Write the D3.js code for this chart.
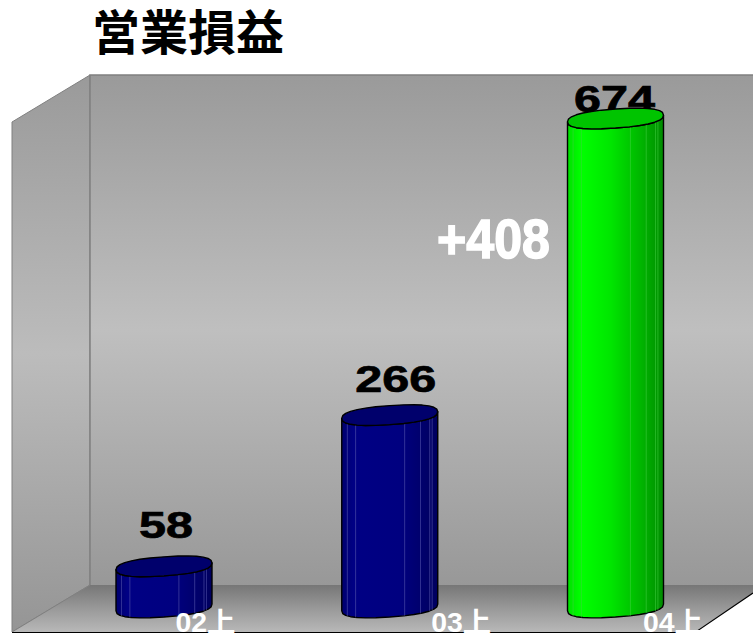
<!DOCTYPE html>
<html><head><meta charset="utf-8">
<script src="https://cdn.jsdelivr.net/npm/d3@7"></script>
<style>html,body{margin:0;padding:0;background:#fff}svg{display:block}</style>
</head><body><svg id="c" width="753" height="634"></svg>
<script>
const title = "営業損益";
const categories = ["02上", "03上", "04上"];
const values = [58, 266, 674];
const barColors = ["navy", "navy", "green"];
const deltaLabel = "+408";

// layout (not data)
const labelLift = [28, 23, 7];
const labelNudge = [2, 6, -1];
const tickNudge = [41, 71, 57];
const facetStops = [0.07, 0.17, 0.62, 0.79, 0.9, 0.93];

const svg = d3.select("#c");
const x = d3.scalePoint().domain(categories).range([164, 615.5]);
const y = d3.scaleLinear().domain([0, 700]).range([608.5, 99.6]);

const defs = svg.append("defs");
function grad(id, x2, y2, stops) {
  const g = defs.append("linearGradient").attr("id", id).attr("x1", 0).attr("y1", 0).attr("x2", x2).attr("y2", y2);
  stops.forEach(s => g.append("stop").attr("offset", s[0]).attr("stop-color", s[1]));
}
grad("wall", 0, 1, [[0, "#9a9a9a"], [0.5, "#bfbfbf"], [1, "#989898"]]);
grad("side", 0, 1, [[0, "#9a9a9a"], [0.5, "#bcbcbc"], [1, "#959595"]]);
grad("floor", 0, 1, [[0, "#767676"], [0.5, "#999999"], [1, "#b8b8b8"]]);
grad("navy", 1, 0, [[0, "#00006e"], [0.12, "#000084"], [0.6, "#000080"], [1, "#00005e"]]);
grad("green", 1, 0, [[0, "#00e000"], [0.14, "#00ff00"], [0.45, "#00e600"], [0.75, "#00b800"], [1, "#008c00"]]);
const topFill = { navy: "#00006c", green: "#00c400" };

const poly = pts => "M" + pts.map(p => p.join(",")).join("L") + "Z";
svg.append("path").attr("d", poly([[12, 122], [90, 75], [90, 585], [12, 632]]))
  .attr("fill", "url(#side)").attr("stroke", "#808080").attr("stroke-width", 1);
svg.append("rect").attr("x", 90).attr("y", 75).attr("width", 663).attr("height", 510).attr("fill", "url(#wall)");
svg.append("path").attr("d", "M90,585V75H753").attr("fill", "none").attr("stroke", "#808080").attr("stroke-width", 1.5);
svg.append("path").attr("d", poly([[12, 632], [90, 585], [753, 585], [753, 593], [695, 632]])).attr("fill", "url(#floor)");
svg.append("path").attr("d", "M12,632L90,585").attr("stroke", "#808080").attr("fill", "none");
svg.append("path").attr("d", "M12,632.5H695L753,593").attr("stroke", "#000").attr("stroke-width", 1.2).attr("fill", "none");

// value labels (behind bars)
svg.append("g").selectAll("text").data(values).join("text")
  .attr("x", (d, i) => x(categories[i]) + labelNudge[i])
  .attr("y", (d, i) => y(d) - labelLift[i])
  .attr("text-anchor", "middle")
  .attr("font-family", "Liberation Sans").attr("font-weight", "bold").attr("font-size", 36)
  .attr("fill", "#000").attr("stroke", "#000").attr("stroke-width", 0.7)
  .attr("textLength", d => String(d).length * 27).attr("lengthAdjust", "spacingAndGlyphs")
  .text(d => d);

// bars: faceted, slightly tilted cylinders
const rx = 48, ry = 9.5, shear = 0.07, n = 14, pow = 0.82;
const sgnPow = v => Math.sign(v) * Math.pow(Math.abs(v), pow);
const rim = (cx, cy, a) => {
  const dx = rx * sgnPow(Math.cos(a));
  return [cx + dx, cy + ry * sgnPow(Math.sin(a)) - dx * shear];
};
const base = y(0) - 1;
values.forEach((v, i) => {
  const cx = x(categories[i]), top = y(v), g = svg.append("g");
  const angles = d3.range(n + 1).map(k => Math.PI * k / n);
  const body = angles.map(a => rim(cx, base, a)).concat(angles.slice().reverse().map(a => rim(cx, top, a)));
  g.append("path").attr("d", poly(body)).attr("fill", `url(#${barColors[i]})`)
    .attr("stroke", "#000").attr("stroke-width", 1.4).attr("stroke-linejoin", "round");
  facetStops.forEach(f => {
    const a = Math.acos(1 - 2 * f);
    const p = rim(cx, top, Math.PI - a), q = rim(cx, base, Math.PI - a);
    g.append("line").attr("x1", p[0]).attr("y1", p[1]).attr("x2", q[0]).attr("y2", q[1])
      .attr("stroke", barColors[i] === "navy" ? "#5a5ab0" : "#40d040").attr("stroke-width", 0.8).attr("opacity", 0.7);
  });
  g.append("path").attr("d", poly(d3.range(n * 2).map(k => rim(cx, top, Math.PI * k / n))))
    .attr("fill", topFill[barColors[i]]).attr("stroke", "#000").attr("stroke-width", 1.4).attr("stroke-linejoin", "round");
});

// category axis labels
const axisG = svg.append("g").attr("transform", "translate(0,631.5)")
  .call(d3.axisBottom(x).tickSize(0).tickPadding(0));
axisG.select(".domain").remove();
axisG.selectAll("text")
  .attr("dy", 0).attr("y", 0)
  .attr("dx", (d, i) => tickNudge[i])
  .attr("font-family", "'Liberation Sans','Noto Sans CJK JP'")
  .attr("font-weight", "bold").attr("font-size", 27)
  .attr("text-anchor", "middle").attr("fill", "#fff")
  .attr("textLength", 60).attr("lengthAdjust", "spacingAndGlyphs");

// delta annotation
svg.append("text").attr("x", 437).attr("y", 258)
  .attr("font-family", "Liberation Sans").attr("font-weight", "bold").attr("font-size", 55)
  .attr("fill", "#fff").attr("stroke", "#fff").attr("stroke-width", 1.5)
  .attr("textLength", 113).attr("lengthAdjust", "spacingAndGlyphs").text(deltaLabel);

// title
svg.append("text").attr("x", 92).attr("y", 50)
  .attr("font-family", "Noto Sans CJK JP").attr("font-weight", "bold").attr("font-size", 48)
  .attr("fill", "#000").text(title);
</script></body></html>
